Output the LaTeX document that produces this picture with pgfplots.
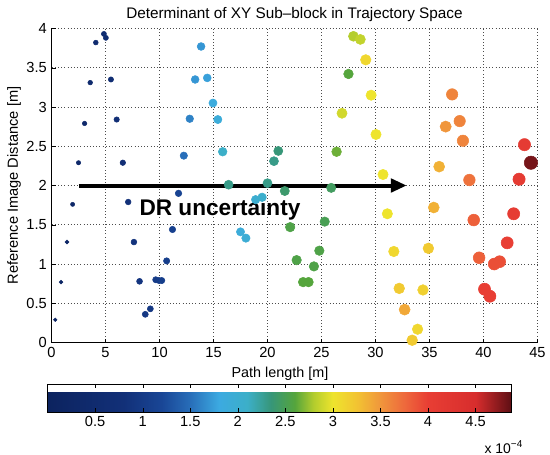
\documentclass[border=0pt]{standalone}
\usepackage{pgfplots}
\usepackage{pgfplotstable}
\usepackage{fontspec}
\setmainfont{Liberation Sans}
\usetikzlibrary{arrows.meta}
\pgfplotsset{compat=1.18}
\pgfplotsset{/pgf/number format/assume math mode=true}

\pgfplotstableread{
x y c
0.34 0.29 0.15
0.88 0.77 0.2
1.43 1.28 0.25
1.95 1.76 0.3
2.5 2.29 0.35
3.06 2.79 0.4
3.58 3.31 0.45
4.1 3.82 0.5
4.85 3.93 0.6
5.03 3.88 0.6
5.5 3.35 0.65
6.03 2.84 0.7
6.6 2.29 0.75
7.1 1.79 0.8
7.63 1.28 0.85
8.15 0.78 0.9
8.68 0.36 0.95
9.15 0.43 0.95
9.65 0.80 1.0
9.95 0.79 1.0
10.2 0.79 1.05
10.66 1.04 1.05
11.2 1.44 1.1
11.76 1.90 1.15
12.25 2.38 1.5
12.8 2.85 1.6
13.3 3.35 1.7
13.85 3.77 1.7
14.42 3.37 1.75
14.95 3.05 1.85
15.4 2.84 1.9
15.85 2.43 2.1
16.4 2.01 2.3
17.5 1.41 1.9
18.0 1.33 1.95
18.9 1.82 2.0
19.5 1.85 2.05
20.0 2.03 2.3
20.6 2.31 2.3
21.0 2.44 2.35
21.6 1.93 2.4
22.1 1.47 2.55
22.7 1.05 2.55
23.3 0.77 2.6
23.8 0.77 2.6
24.3 0.97 2.55
24.8 1.17 2.55
25.3 1.54 2.5
25.9 1.97 2.45
26.4 2.43 2.65
26.9 2.92 2.9
27.5 3.42 2.6
27.96 3.90 2.8
28.6 3.86 2.85
29.1 3.60 3.1
29.6 3.15 3.0
30.05 2.65 3.0
30.7 2.14 3.0
31.1 1.64 3.0
31.7 1.16 3.1
32.2 0.69 3.2
32.7 0.42 3.4
33.4 0.03 3.2
33.9 0.17 3.1
34.4 0.67 3.15
34.9 1.20 3.2
35.4 1.72 3.35
35.9 2.24 3.35
36.5 2.75 3.5
37.1 3.16 3.6
37.8 2.82 3.6
38.1 2.57 3.6
38.7 2.07 3.7
39.1 1.56 3.8
39.6 1.08 3.8
40.1 0.68 4.0
40.6 0.59 4.0
41.0 1.00 3.9
41.5 1.03 3.9
42.2 1.27 4.0
42.8 1.64 4.05
43.3 2.08 4.1
43.8 2.52 4.1
44.4 2.29 4.8
}\pts

\begin{document}
\begin{tikzpicture}
\begin{axis}[
  scale only axis,
  width=365pt, height=236pt,
  xmin=0, xmax=45, ymin=0, ymax=4,
  xtick={0,5,...,45}, ytick={0,0.5,...,4},
  axis lines*=left,
  axis line style={-, black, line width=0.7pt},
  grid=major,
  grid style={dotted, black!70, line width=0.6pt},
  tick align=inside, major tick length=3pt, tick style={black},
  ticklabel style={font=\fontsize{11}{13}\selectfont},
  title={Determinant of XY Sub–block in Trajectory Space},
  title style={font=\fontsize{11.5}{13}\selectfont, at={(axis description cs:0.5,1)}, anchor=center, yshift=4.5pt, inner sep=5.5pt},
  xlabel={Path length [m]},
  ylabel={Reference Image Distance [m]},
  xlabel style={font=\fontsize{10.8}{12}\selectfont, at={(axis description cs:0.47,0)}, anchor=center, yshift=-23.3pt},
  ylabel style={font=\fontsize{11}{13}\selectfont, at={(axis description cs:-0.077,0.5)}, anchor=center, inner ysep=5.5pt},
  colormap={ref}{
    rgb255(0cm)=(12,35,95)
    rgb255(0.8cm)=(18,48,120)
    rgb255(1.2cm)=(25,70,150)
    rgb255(1.5cm)=(40,110,185)
    rgb255(1.8cm)=(60,170,225)
    rgb255(2.1cm)=(60,175,200)
    rgb255(2.35cm)=(55,150,120)
    rgb255(2.6cm)=(85,165,60)
    rgb255(2.8cm)=(180,205,45)
    rgb255(3.0cm)=(238,228,45)
    rgb255(3.25cm)=(242,195,50)
    rgb255(3.5cm)=(240,150,60)
    rgb255(3.75cm)=(238,105,60)
    rgb255(4.0cm)=(232,62,52)
    rgb255(4.5cm)=(215,45,45)
    rgb255(4.87cm)=(95,15,20)
  },
  point meta min=0, point meta max=4.87,
  colorbar horizontal,
  colorbar style={
    at={(parent axis.south west)}, anchor=north west,
    xshift=-3pt, yshift=-22.5pt,
    width=348pt, height=21pt,
    xtick={0.5,1,...,4.5},
    xticklabel style={font=\fontsize{11}{13}\selectfont},
    tick align=inside, major tick length=3pt, tick style={black},
    xtick pos=both, xticklabel pos=lower,
    axis line style={black},
  },
  clip=false,
]
\node[font=\bfseries\fontsize{17}{19}\selectfont] at (axis cs:15.6,1.69) {DR uncertainty};
\draw[line width=3pt, -{Triangle[length=12pt,width=10pt]}] (axis cs:2.5,2) -- (axis cs:32.9,2);
\addplot[scatter, only marks, mark=*, point meta=explicit,
  scatter/use mapped color={draw=mapped color, fill=mapped color},
  visualization depends on={\thisrow{c} \as \cval},
  scatter/@pre marker code/.append style={/tikz/mark size={0.98+1.35*pow(\cval,0.7)}}]
  table[x=x, y=y, meta=c] {\pts};
\node[font=\fontsize{10.5}{12}\selectfont, anchor=center, inner sep=1pt] at (rel axis cs:0.93,-0.333) {x 10\raisebox{0.7ex}{\fontsize{7.5}{8}\selectfont −4}};
\end{axis}
\end{tikzpicture}
\end{document}
